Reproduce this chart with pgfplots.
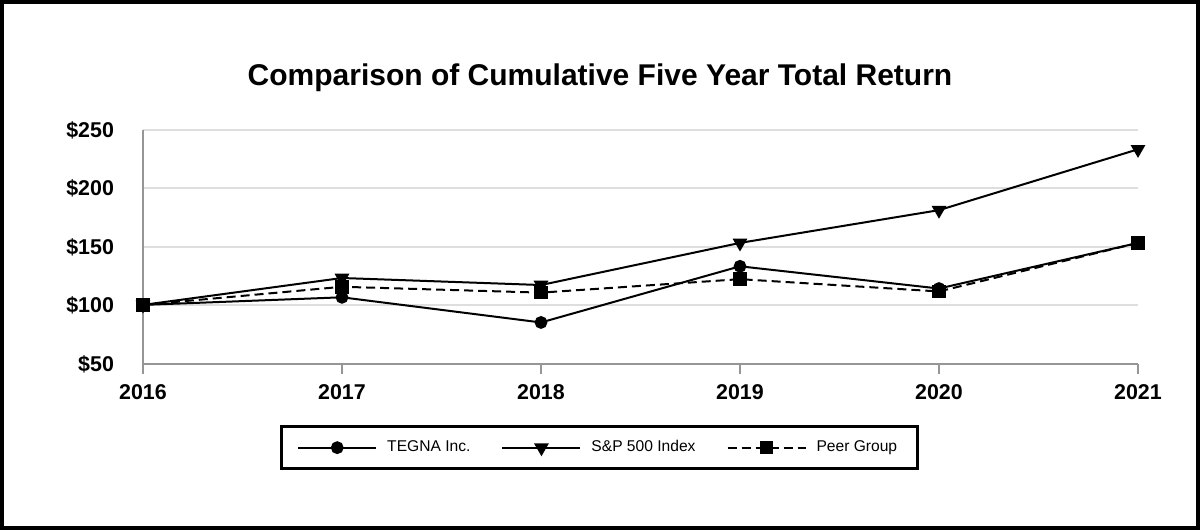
\documentclass[border=0pt]{standalone}
\usepackage{pgfplots}
\pgfplotsset{compat=1.18}
\usepackage{fontspec}
\setmainfont{Liberation Sans}
\definecolor{axgray}{RGB}{150,150,150}
\definecolor{gridgray}{RGB}{222,222,222}
\begin{document}
\begin{tikzpicture}[x=1pt,y=1pt]
\useasboundingbox (0,0) rectangle (600,265);
\draw[line width=2pt] (1,1) rectangle (599,264);
\node[anchor=base,font=\bfseries\fontsize{15}{18}\selectfont] at (300,222) {Comparison of Cumulative Five Year Total Return};
\begin{axis}[
  at={(71.5pt,83pt)}, anchor=origin,
  scale only axis, width=497.5pt, height=117pt,
  xmin=2016, xmax=2021, ymin=50, ymax=250,
  xtick={2016,...,2021}, ytick={50,100,150,200,250},
  xticklabel={\pgfmathprintnumber[set thousands separator={}]{\tick}},
  yticklabel={\$\pgfmathprintnumber{\tick}},
  /pgf/number format/assume math mode=true,
  ticklabel style={font=\bfseries\fontsize{10.7}{12}\selectfont},
  yticklabel style={xshift=-11pt},
  xticklabel style={yshift=-1.5pt},
  axis x line*=bottom, axis y line*=left,
  axis line style={axgray, line width=1pt},
  x axis line style={-}, y axis line style={-},
  xtick style={axgray, line width=1pt},
  ytick style={draw=none},
  major tick length=5pt, xtick align=outside,
  ymajorgrids, grid style={gridgray, line width=1pt},
  clip=false,
  legend columns=3,
  legend style={at={(0.4585,-0.2607)}, anchor=north, draw=black, line width=1.5pt,
    font=\fontsize{7.8}{9}\selectfont, inner xsep=8pt, inner ysep=5pt,
    /tikz/every odd column/.append style={column sep=3pt},
    /tikz/every even column/.append style={column sep=13.5pt}},
  legend image code/.code={\draw[mark repeat=2,mark phase=2,#1] plot coordinates {(0pt,0pt) (19.5pt,0pt) (39pt,0pt)};},
]
\addplot[black, line width=1pt, mark=*, mark size=2.7pt, mark options={solid}] coordinates {
  (2016,100.5) (2017,107) (2018,85.5) (2019,133.5) (2020,114.5) (2021,153.5)};
\addlegendentry{TEGNA Inc.}
\addplot[black, line width=1pt, mark=triangle*, mark size=3.3pt, mark options={solid, rotate=180}] coordinates {
  (2016,100.5) (2017,123.5) (2018,117.5) (2019,153.5) (2020,181.5) (2021,233.5)};
\addlegendentry{S\&P 500 Index}
\addplot[black, line width=1pt, dash pattern=on 4.5pt off 2.5pt, mark=square*, mark size=2.9pt, mark options={solid}] coordinates {
  (2016,100.5) (2017,116) (2018,111) (2019,122.5) (2020,112) (2021,153.5)};
\addlegendentry{Peer Group}
\end{axis}
\end{tikzpicture}
\end{document}
